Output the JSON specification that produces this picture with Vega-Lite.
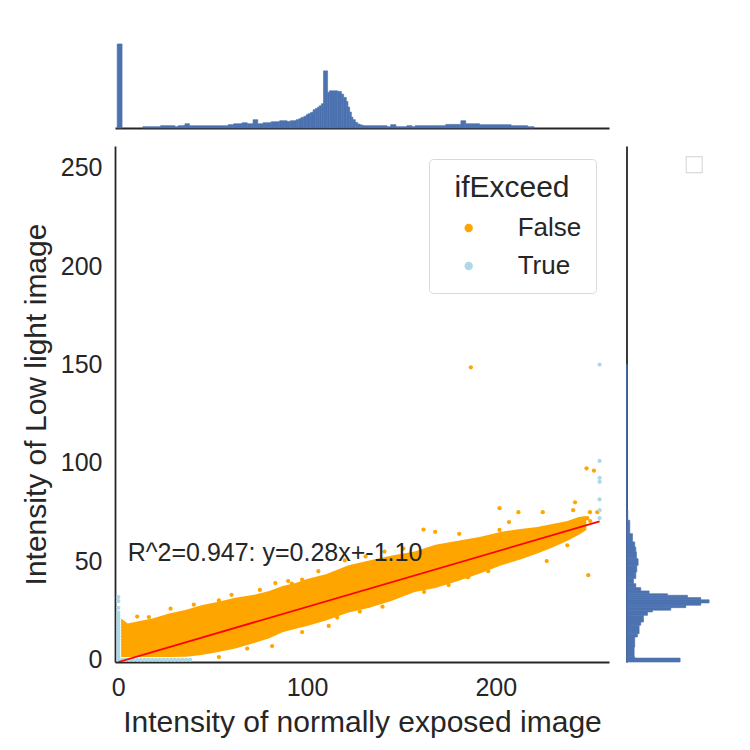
{
  "$schema": "https://vega.github.io/schema/vega-lite/v6.json",
  "background": "white",
  "padding": {"left": 21, "top": 28, "right": 5, "bottom": 5},
  "bounds": "flush",
  "spacing": 18,
  "resolve": {"legend": {"color": "independent"}},
  "config": {
    "font": "Liberation Sans",
    "view": {"stroke": null},
    "axis": {"grid": false, "ticks": false, "domainColor": "#262626", "domainWidth": 1.8, "labelColor": "#262626", "titleColor": "#262626", "labelFontSize": 25, "titleFontSize": 30, "titleFontWeight": "normal", "labelPadding": 13}
  },
  "datasets": {
    "band": [
      {"x": 1.5, "lo": 1.5, "hi": 21}, {"x": 5, "lo": 1.5, "hi": 18.5}, {"x": 10, "lo": 1.5, "hi": 19.5},
      {"x": 18, "lo": 1.5, "hi": 21}, {"x": 27, "lo": 1.5, "hi": 23.5}, {"x": 36, "lo": 1.6, "hi": 25.5},
      {"x": 44, "lo": 2.5, "hi": 27.7}, {"x": 53, "lo": 4, "hi": 29.5}, {"x": 62, "lo": 5.8, "hi": 31.5},
      {"x": 72, "lo": 8.5, "hi": 33}, {"x": 80, "lo": 11, "hi": 35}, {"x": 87, "lo": 14, "hi": 37.5},
      {"x": 94, "lo": 15.8, "hi": 39}, {"x": 100, "lo": 17.2, "hi": 41}, {"x": 110, "lo": 20, "hi": 43.5},
      {"x": 122, "lo": 24, "hi": 48}, {"x": 133, "lo": 26.5, "hi": 50.5}, {"x": 145, "lo": 30, "hi": 53},
      {"x": 157, "lo": 34.5, "hi": 55}, {"x": 168, "lo": 36.5, "hi": 58.5}, {"x": 180, "lo": 40, "hi": 60.5},
      {"x": 192, "lo": 44, "hi": 62.5}, {"x": 203, "lo": 48, "hi": 65}, {"x": 213, "lo": 51, "hi": 66.5},
      {"x": 222, "lo": 54, "hi": 67.5}, {"x": 230, "lo": 57, "hi": 69}, {"x": 238, "lo": 60.5, "hi": 70.5},
      {"x": 244, "lo": 63.5, "hi": 72.5}, {"x": 248, "lo": 66, "hi": 73}
    ],
    "pts": [
      {"x": 186.8, "y": 148.6, "ifExceed": "False"}, {"x": 248.1, "y": 97.3, "ifExceed": "False"},
      {"x": 252, "y": 96.1, "ifExceed": "False"}, {"x": 242, "y": 80, "ifExceed": "False"},
      {"x": 241, "y": 76, "ifExceed": "False"}, {"x": 249.9, "y": 75, "ifExceed": "False"},
      {"x": 253.8, "y": 75, "ifExceed": "False"}, {"x": 248.5, "y": 72, "ifExceed": "False"},
      {"x": 202, "y": 77, "ifExceed": "False"}, {"x": 212, "y": 75, "ifExceed": "False"},
      {"x": 224.9, "y": 75, "ifExceed": "False"}, {"x": 207, "y": 70, "ifExceed": "False"},
      {"x": 227, "y": 50.2, "ifExceed": "False"}, {"x": 249, "y": 43, "ifExceed": "False"},
      {"x": 237.9, "y": 58.2, "ifExceed": "False"}, {"x": 180.6, "y": 64, "ifExceed": "False"},
      {"x": 185, "y": 42, "ifExceed": "False"}, {"x": 202, "y": 66, "ifExceed": "False"},
      {"x": 161.7, "y": 66.2, "ifExceed": "False"}, {"x": 167.9, "y": 65, "ifExceed": "False"},
      {"x": 83.2, "y": 39, "ifExceed": "False"}, {"x": 92, "y": 38.7, "ifExceed": "False"},
      {"x": 97.4, "y": 40.7, "ifExceed": "False"}, {"x": 53.3, "y": 30.2, "ifExceed": "False"},
      {"x": 27.7, "y": 26, "ifExceed": "False"}, {"x": 16.2, "y": 21.7, "ifExceed": "False"},
      {"x": 68.3, "y": 5.7, "ifExceed": "False"}, {"x": 81.5, "y": 7, "ifExceed": "False"},
      {"x": 97.4, "y": 14.1, "ifExceed": "False"}, {"x": 111.5, "y": 17.2, "ifExceed": "False"},
      {"x": 53.3, "y": 1.4, "ifExceed": "False"}, {"x": 185.5, "y": 42.1, "ifExceed": "False"},
      {"x": 246, "y": 68, "ifExceed": "False"}, {"x": 250, "y": 70.5, "ifExceed": "False"},
      {"x": 235, "y": 64, "ifExceed": "False"}, {"x": 240, "y": 66, "ifExceed": "False"},
      {"x": 120, "y": 50.5, "ifExceed": "False"}, {"x": 131, "y": 52.5, "ifExceed": "False"},
      {"x": 141, "y": 55, "ifExceed": "False"}, {"x": 151, "y": 56.5, "ifExceed": "False"},
      {"x": 75, "y": 35.5, "ifExceed": "False"}, {"x": 60, "y": 33, "ifExceed": "False"},
      {"x": 40, "y": 28, "ifExceed": "False"}, {"x": 10, "y": 22, "ifExceed": "False"},
      {"x": 116, "y": 21.5, "ifExceed": "False"}, {"x": 128, "y": 24.5, "ifExceed": "False"},
      {"x": 140, "y": 27, "ifExceed": "False"}, {"x": 162, "y": 34.5, "ifExceed": "False"},
      {"x": 175, "y": 38, "ifExceed": "False"}, {"x": 196, "y": 45, "ifExceed": "False"},
      {"x": 106, "y": 45, "ifExceed": "False"}, {"x": 90, "y": 40, "ifExceed": "False"},
      {"x": 0, "y": 0, "ifExceed": "True"}, {"x": 0, "y": 1.5, "ifExceed": "True"},
      {"x": 0, "y": 3, "ifExceed": "True"}, {"x": 0, "y": 4.5, "ifExceed": "True"},
      {"x": 0, "y": 6, "ifExceed": "True"}, {"x": 0, "y": 7.5, "ifExceed": "True"},
      {"x": 0, "y": 9, "ifExceed": "True"}, {"x": 0, "y": 10.5, "ifExceed": "True"},
      {"x": 0, "y": 12, "ifExceed": "True"}, {"x": 0, "y": 13.5, "ifExceed": "True"},
      {"x": 0, "y": 15, "ifExceed": "True"}, {"x": 0, "y": 16.5, "ifExceed": "True"},
      {"x": 0, "y": 18, "ifExceed": "True"}, {"x": 0, "y": 19.5, "ifExceed": "True"},
      {"x": 0, "y": 21, "ifExceed": "True"}, {"x": 0, "y": 22.5, "ifExceed": "True"},
      {"x": 0, "y": 24, "ifExceed": "True"}, {"x": 0, "y": 26.4, "ifExceed": "True"},
      {"x": 0, "y": 29.8, "ifExceed": "True"}, {"x": 0, "y": 31.9, "ifExceed": "True"},
      {"x": 2, "y": 0, "ifExceed": "True"}, {"x": 4, "y": 0, "ifExceed": "True"},
      {"x": 6, "y": 0, "ifExceed": "True"}, {"x": 8, "y": 0, "ifExceed": "True"},
      {"x": 10, "y": 0, "ifExceed": "True"}, {"x": 12, "y": 0, "ifExceed": "True"},
      {"x": 14, "y": 0, "ifExceed": "True"}, {"x": 16, "y": 0, "ifExceed": "True"},
      {"x": 18, "y": 0, "ifExceed": "True"}, {"x": 20, "y": 0, "ifExceed": "True"},
      {"x": 22, "y": 0, "ifExceed": "True"}, {"x": 24, "y": 0, "ifExceed": "True"},
      {"x": 26, "y": 0, "ifExceed": "True"}, {"x": 28, "y": 0, "ifExceed": "True"},
      {"x": 30, "y": 0, "ifExceed": "True"}, {"x": 32, "y": 0, "ifExceed": "True"},
      {"x": 34, "y": 0, "ifExceed": "True"}, {"x": 36, "y": 0, "ifExceed": "True"},
      {"x": 38, "y": 0, "ifExceed": "True"},
      {"x": 255, "y": 150, "ifExceed": "True"}, {"x": 255, "y": 101, "ifExceed": "True"},
      {"x": 255, "y": 92.4, "ifExceed": "True"}, {"x": 255, "y": 90.4, "ifExceed": "True"},
      {"x": 255, "y": 81.5, "ifExceed": "True"}, {"x": 255, "y": 76, "ifExceed": "True"},
      {"x": 255, "y": 72, "ifExceed": "True"}
    ],
    "fit": [{"x": 0, "y": -1.1}, {"x": 255, "y": 70.3}],
    "note": [{"x": 5, "y": 50, "label": "R^2=0.947: y=0.28x+-1.10"}],
    "xhist": [
      {"x0": -0.6, "x1": 2.0, "h": 100}, {"x0": 13, "x1": 22.4, "h": 1.6}, {"x0": 22.4, "x1": 30, "h": 2.8},
      {"x0": 30, "x1": 31.7, "h": 1.6}, {"x0": 31.7, "x1": 35.3, "h": 2.8}, {"x0": 35.3, "x1": 37.7, "h": 5.1},
      {"x0": 37.7, "x1": 58.2, "h": 2.8}, {"x0": 58.2, "x1": 61.2, "h": 4}, {"x0": 61.2, "x1": 65.6, "h": 5.1},
      {"x0": 65.6, "x1": 68.3, "h": 6.3}, {"x0": 68.3, "x1": 71.4, "h": 5.1}, {"x0": 71.4, "x1": 73.9, "h": 9.9},
      {"x0": 73.9, "x1": 76.7, "h": 5.1}, {"x0": 76.7, "x1": 81, "h": 6.3}, {"x0": 81, "x1": 85.5, "h": 7.5},
      {"x0": 85.5, "x1": 89.4, "h": 8.7}, {"x0": 89.4, "x1": 91.2, "h": 7.9}, {"x0": 91.2, "x1": 94.2, "h": 8.7},
      {"x0": 94.2, "x1": 95.6, "h": 9.9}, {"x0": 95.6, "x1": 96.8, "h": 11}, {"x0": 96.8, "x1": 98.3, "h": 12.6},
      {"x0": 98.3, "x1": 99.5, "h": 13.8}, {"x0": 99.5, "x1": 100.5, "h": 15.8}, {"x0": 100.5, "x1": 101.8, "h": 17},
      {"x0": 101.8, "x1": 103.2, "h": 18.6}, {"x0": 103.2, "x1": 104.4, "h": 21.7}, {"x0": 104.4, "x1": 105.6, "h": 23.3},
      {"x0": 105.6, "x1": 106.5, "h": 24.9}, {"x0": 106.5, "x1": 107.6, "h": 26.5}, {"x0": 107.6, "x1": 108.7, "h": 28.9},
      {"x0": 108.7, "x1": 110.9, "h": 68}, {"x0": 110.9, "x1": 111.8, "h": 42.3}, {"x0": 111.8, "x1": 116.2, "h": 44.3},
      {"x0": 116.2, "x1": 118.2, "h": 43.5}, {"x0": 118.2, "x1": 119.4, "h": 40.3}, {"x0": 119.4, "x1": 120.8, "h": 36.4},
      {"x0": 120.8, "x1": 121.7, "h": 31.6}, {"x0": 121.7, "x1": 122.6, "h": 24.9}, {"x0": 122.6, "x1": 123.5, "h": 19},
      {"x0": 123.5, "x1": 124.3, "h": 13}, {"x0": 124.3, "x1": 125.6, "h": 9.9}, {"x0": 125.6, "x1": 126.8, "h": 6.7},
      {"x0": 126.8, "x1": 128.2, "h": 4.7}, {"x0": 128.2, "x1": 129.6, "h": 3.6}, {"x0": 129.6, "x1": 142.3, "h": 2.8},
      {"x0": 142.3, "x1": 144.3, "h": 1.6}, {"x0": 144.3, "x1": 147.1, "h": 4}, {"x0": 147.1, "x1": 152.9, "h": 1.6},
      {"x0": 152.9, "x1": 155.6, "h": 2.8}, {"x0": 155.6, "x1": 157.3, "h": 1.6}, {"x0": 157.3, "x1": 173.5, "h": 2.8},
      {"x0": 173.5, "x1": 181.5, "h": 4.3}, {"x0": 181.5, "x1": 184.1, "h": 8.7}, {"x0": 184.1, "x1": 191.4, "h": 5.1},
      {"x0": 191.4, "x1": 208.1, "h": 4}, {"x0": 208.1, "x1": 216.9, "h": 2.8}, {"x0": 216.9, "x1": 220.3, "h": 1.6}
    ],
    "yhist": [
      {"y0": 76, "y1": 150, "r": 0.9}, {"y0": 70.9, "y1": 76, "r": 1.6}, {"y0": 64.1, "y1": 70.9, "r": 4},
      {"y0": 59.9, "y1": 64.1, "r": 7.3}, {"y0": 57.3, "y1": 59.9, "r": 10}, {"y0": 54.8, "y1": 57.3, "r": 11.3},
      {"y0": 51.4, "y1": 54.8, "r": 12.1}, {"y0": 48, "y1": 51.4, "r": 14.1}, {"y0": 44.6, "y1": 48, "r": 12.5},
      {"y0": 41.3, "y1": 44.6, "r": 11.3}, {"y0": 38.7, "y1": 41.3, "r": 8.5}, {"y0": 36.7, "y1": 38.7, "r": 11.3},
      {"y0": 35, "y1": 36.7, "r": 17.3}, {"y0": 33.6, "y1": 35, "r": 27.4}, {"y0": 32.8, "y1": 33.6, "r": 49.6},
      {"y0": 31.6, "y1": 32.8, "r": 73.8}, {"y0": 30.5, "y1": 31.6, "r": 89.9}, {"y0": 28.9, "y1": 30.5, "r": 100},
      {"y0": 27.7, "y1": 28.9, "r": 89.9}, {"y0": 26.5, "y1": 27.7, "r": 71.8}, {"y0": 25.2, "y1": 26.5, "r": 53.6},
      {"y0": 24.3, "y1": 25.2, "r": 31.4}, {"y0": 22.6, "y1": 24.3, "r": 25.4}, {"y0": 19.2, "y1": 22.6, "r": 20.6},
      {"y0": 17.6, "y1": 19.2, "r": 17.3}, {"y0": 13.3, "y1": 17.6, "r": 15.3}, {"y0": 11.6, "y1": 13.3, "r": 13.3},
      {"y0": 6.5, "y1": 11.6, "r": 10}, {"y0": 1.5, "y1": 6.5, "r": 9.3}, {"y0": 0.9, "y1": 1.5, "r": 10},
      {"y0": -1.1, "y1": 0.9, "r": 64.9}
    ],
    "emptylegend": [{"r": 82, "y": 251.5}]
  },
  "vconcat": [
    {
      "width": 494,
      "height": 100,
      "data": {"name": "xhist"},
      "mark": {"type": "rect", "color": "#4c72b0", "stroke": "#4c72b0", "strokeWidth": 0.6},
      "encoding": {
        "x": {"field": "x0", "type": "quantitative", "scale": {"domain": [-1.75, 260], "nice": false, "zero": false}, "axis": {"labels": false, "title": null, "domain": true}},
        "x2": {"field": "x1"},
        "y": {"field": "h", "type": "quantitative", "scale": {"domain": [0, 119], "nice": false}, "axis": null},
        "y2": {"datum": 0}
      }
    },
    {
      "bounds": "flush",
      "spacing": 17.5,
      "resolve": {"legend": {"color": "independent"}},
      "hconcat": [
        {
          "width": 494,
          "height": 516,
          "layer": [
            {
              "data": {"name": "band"},
              "mark": {"type": "area", "color": "orange", "clip": true},
              "encoding": {
                "x": {"field": "x", "type": "quantitative", "scale": {"domain": [-1.75, 260], "nice": false, "zero": false}, "axis": {"values": [0, 100, 200], "title": "Intensity of normally exposed image", "titlePadding": 7}},
                "y": {"field": "lo", "type": "quantitative", "scale": {"domain": [-1.1, 261], "nice": false, "zero": false}, "axis": {"values": [0, 50, 100, 150, 200, 250], "title": "Intensity of Low light image", "titlePadding": 9}},
                "y2": {"field": "hi"}
              }
            },
            {
              "data": {"name": "pts"},
              "mark": {"type": "point", "filled": true, "size": 18, "opacity": 1, "clip": true},
              "encoding": {
                "x": {"field": "x", "type": "quantitative"},
                "y": {"field": "y", "type": "quantitative"},
                "color": {
                  "field": "ifExceed", "type": "nominal",
                  "scale": {"domain": ["False", "True"], "range": ["orange", "lightblue"]},
                  "legend": {"title": "ifExceed", "orient": "top-right", "offset": 13, "padding": 14, "strokeColor": "#d9d9d9", "fillColor": "white", "cornerRadius": 4, "titleFontSize": 30, "titleFontWeight": "normal", "titleColor": "#262626", "titleAnchor": "middle", "titlePadding": 12, "labelFontSize": 26, "labelColor": "#262626", "labelOffset": 36, "symbolOffset": 12.7, "symbolSize": 70, "symbolType": "circle", "symbolStrokeWidth": 0, "rowPadding": 12}
                }
              }
            },
            {
              "data": {"name": "fit"},
              "mark": {"type": "line", "color": "red", "strokeWidth": 1.8, "clip": true},
              "encoding": {
                "x": {"field": "x", "type": "quantitative"},
                "y": {"field": "y", "type": "quantitative"}
              }
            },
            {
              "data": {"name": "note"},
              "mark": {"type": "text", "align": "left", "baseline": "alphabetic", "fontSize": 25, "color": "#262626"},
              "encoding": {
                "x": {"field": "x", "type": "quantitative"},
                "y": {"field": "y", "type": "quantitative"},
                "text": {"field": "label"}
              }
            }
          ]
        },
        {
          "width": 100,
          "height": 516,
          "layer": [
            {
              "data": {"name": "yhist"},
              "mark": {"type": "rect", "color": "#4c72b0", "stroke": "#4c72b0", "strokeWidth": 0.6},
              "encoding": {
                "y": {"field": "y0", "type": "quantitative", "scale": {"domain": [-1.1, 261], "nice": false, "zero": false}, "axis": {"labels": false, "title": null, "domain": true}},
                "y2": {"field": "y1"},
                "x": {"field": "r", "type": "quantitative", "scale": {"domain": [0, 121], "nice": false}, "axis": null},
                "x2": {"datum": 0}
              }
            },
            {
              "data": {"name": "emptylegend"},
              "mark": {"type": "point", "shape": "square", "size": 256, "filled": false, "stroke": "#cccccc", "strokeWidth": 1.2},
              "encoding": {
                "x": {"field": "r", "type": "quantitative"},
                "y": {"field": "y", "type": "quantitative"}
              }
            }
          ]
        }
      ]
    }
  ]
}
